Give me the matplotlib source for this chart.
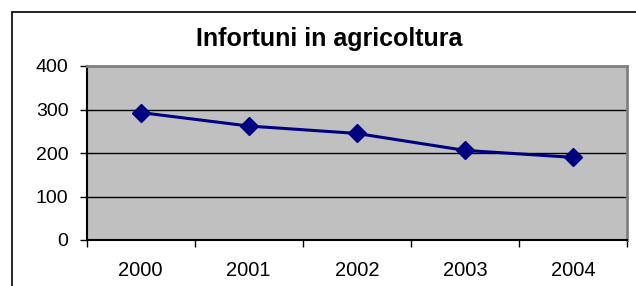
import matplotlib
matplotlib.use("Agg")
import matplotlib.pyplot as plt
from matplotlib.patches import Rectangle
import numpy as np

# dati
anni = ["2000", "2001", "2002", "2003", "2004"]
infortuni = [293, 262, 245, 206, 190]
y_ticks = [0, 100, 200, 300, 400]

plt.rcParams["font.family"] = ["Liberation Sans", "DejaVu Sans"]

fig = plt.figure(figsize=(6.36, 2.86), dpi=100)
ax = fig.add_axes([86.5 / 636, 1 - 240 / 286, (627 - 86.5) / 636, (240 - 66) / 286])

x = np.arange(len(anni))
ax.plot(x, infortuni, color="#000080", linewidth=2.2, marker="D",
        markersize=9, markerfacecolor="#000080", markeredgecolor="#000080", zorder=3)

ax.set_facecolor("#C0C0C0")
ax.set_xlim(-0.5, len(anni) - 0.5)
ax.set_ylim(0, 400)
ax.set_yticks(y_ticks)
ax.yaxis.grid(True, color="black", linewidth=1.0)
ax.set_axisbelow(True)

# etichette al centro, tacche tra le categorie
ax.set_xticks(x)
ax.set_xticklabels(anni, fontsize=14.5)
ax.set_xticks(np.arange(-0.5, len(anni)), minor=True)
ax.tick_params(axis="x", which="major", length=0, pad=15)
ax.tick_params(axis="x", which="minor", length=5, width=1, direction="out", color="black")
ax.tick_params(axis="y", length=5, width=1, pad=8, labelsize=14, color="black")

for side in ["top", "right"]:
    ax.spines[side].set_color("#808080")
    ax.spines[side].set_linewidth(2)
for side in ["left", "bottom"]:
    ax.spines[side].set_color("black")
    ax.spines[side].set_linewidth(1.5)

fig.text(329 / 636, 1 - 39 / 286, "Infortuni in agricoltura", ha="center", va="center",
         fontsize=18, fontweight="bold")

# cornice esterna del grafico
fig.add_artist(Rectangle((11.5 / 636, -0.2), 1.0, 1.2 - 12 / 286 + 0.0,
                         transform=fig.transFigure, fill=False, edgecolor="black",
                         linewidth=1.2))

fig.savefig("out.png", dpi=100)
